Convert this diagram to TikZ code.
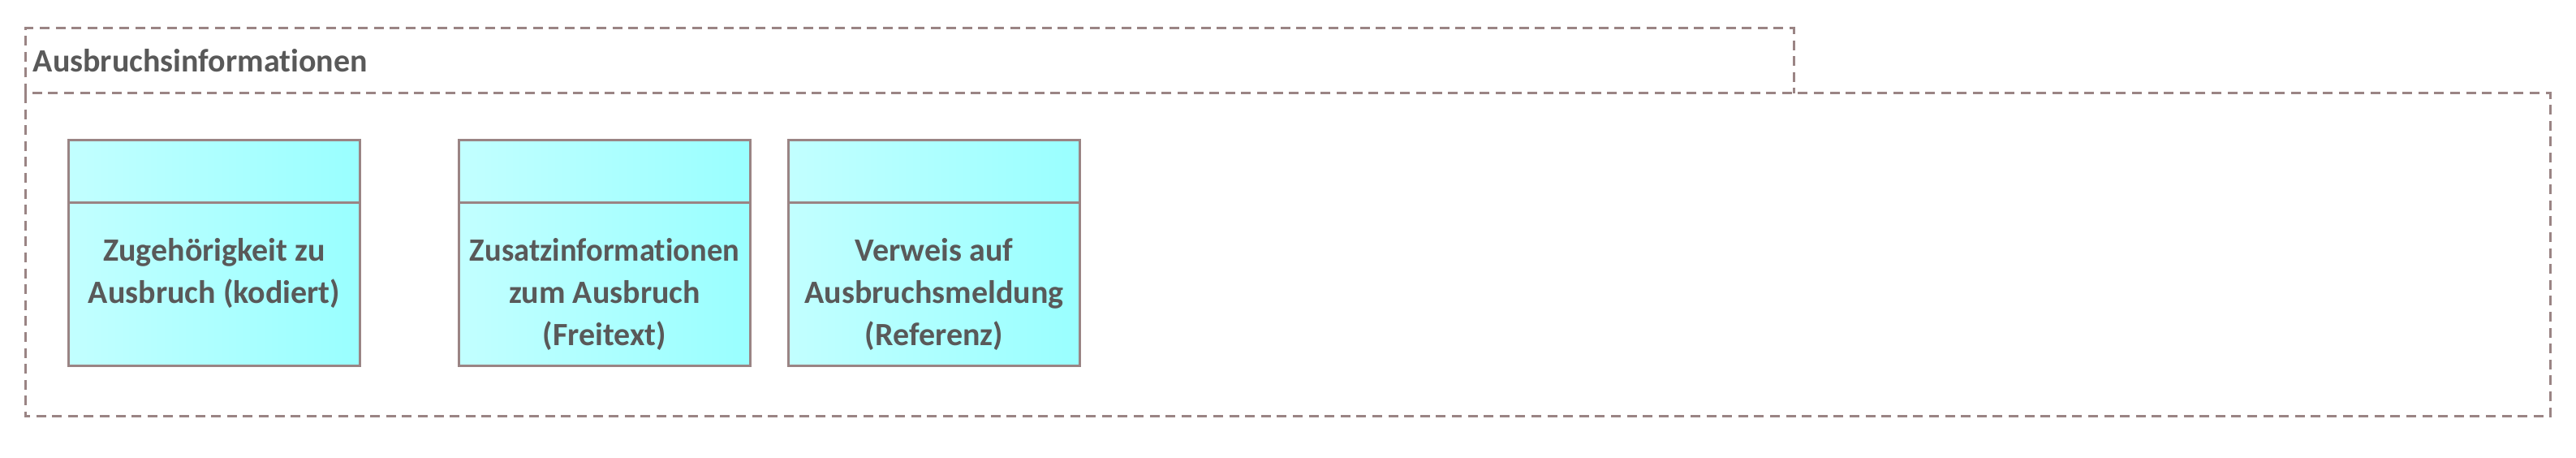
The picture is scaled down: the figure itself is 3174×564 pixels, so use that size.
\documentclass[tikz,border=0pt]{standalone}
\usepackage{fontspec}
\setmainfont{Carlito}[Ligatures=NoCommon]
\usepackage{xcolor}
\definecolor{frameGray}{HTML}{9A8484}
\definecolor{textGray}{HTML}{595959}
\definecolor{cyanLeft}{HTML}{C2FFFF}
\definecolor{cyanRight}{HTML}{99FFFF}
\usetikzlibrary{positioning}

\tikzset{
  pkgline/.style={draw=frameGray, line width=0.75pt, dash pattern=on 3pt off 1.9pt},
  classbox/.style={draw=frameGray, line width=0.75pt, rectangle, inner sep=0pt,
    minimum width=89.75pt, minimum height=69.5pt, left color=cyanLeft, right color=cyanRight},
  boxtext/.style={inner sep=0pt, align=center, text=textGray,
    font=\fontsize{10pt}{13pt}\selectfont\bfseries},
}

\begin{document}
\begin{tikzpicture}[x=0.25pt, y=-0.25pt]
  \useasboundingbox (0,0) rectangle (3174,564);
  % Package frame
  \draw[pkgline] (31,115) -- (31,35) -- (2210,35) -- (2210,115);
  \draw[pkgline] (31,115) rectangle (3142,513);
  \node[boxtext, anchor=base west] (title) at (40,89) {Ausbruchsinformationen};
  % Classes
  \node[classbox, anchor=north west] (kodiert) at (83,171) {};
  \node[classbox, right=29.75pt of kodiert] (freitext) {};
  \node[classbox, right=11pt of freitext] (referenz) {};
  \foreach \c in {kodiert,freitext,referenz} {
    \draw[frameGray, line width=0.75pt] ([yshift=-19.75pt]\c.north west) -- ([yshift=-19.75pt]\c.north east);
  }
  % Labels
  \node[boxtext, below=30.5pt of kodiert.north] (kodierttext) {Zugehörigkeit zu\\Ausbruch (kodiert)};
  \node[boxtext, below=30.5pt of freitext.north] (freitexttext) {\resizebox{83pt}{\height}{Zusatzinformationen}\\zum Ausbruch\\(Freitext)};
  \node[boxtext, below=30.5pt of referenz.north] (referenztext) {Verweis auf\\Ausbruchsmeldung\\(Referenz)};
\end{tikzpicture}
\end{document}
